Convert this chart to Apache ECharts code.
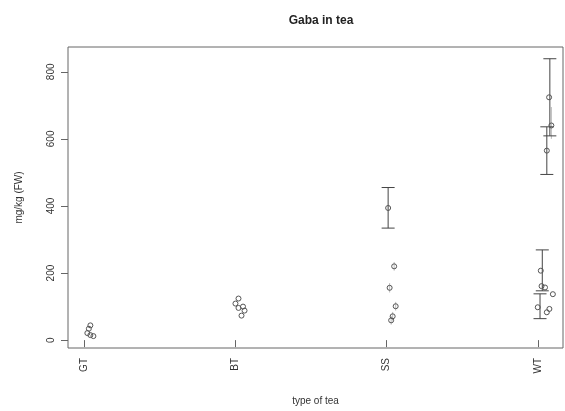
<!DOCTYPE html>
<html>
<head>
<meta charset="utf-8">
<script src="https://cdn.jsdelivr.net/npm/echarts@6/dist/echarts.min.js"></script>
<style>html,body{margin:0;padding:0;background:#fff}#c{width:565px;height:411px}</style>
</head>
<body>
<div id="c"></div>
<script>
// ---- data ----
const categories = ['GT', 'BT', 'SS', 'WT'];
const yTicks = [0, 200, 400, 600, 800];
const xTicks = [1, 2, 3, 4];

// jittered x positions and values (mg/kg FW)
const gtX = [1.04, 1.03, 1.02, 1.04, 1.06];
const gtY = [44, 34, 21, 15, 12];
const btX = [2.02, 2.00, 2.05, 2.02, 2.06, 2.04];
const btY = [124, 109, 100, 96, 88, 73];
const ssX = [3.01, 3.05, 3.02, 3.06, 3.04, 3.03];
const ssY = [394, 220, 156, 101, 71, 59];
const wtX = [4.075, 4.09, 4.06, 4.02, 4.025, 4.048, 4.10, 4.00, 4.06, 4.077];
const wtY = [724, 640, 565, 207, 161, 157, 137, 98, 83, 93];

// error bars with caps
const barX = [3.01, 4.08, 4.06, 4.03, 4.015];
const barLow = [334, 609, 494, 147, 64];
const barHigh = [455, 839, 636, 269, 138];

// faint bars without caps
const faintX = [3.05, 3.02, 3.06, 3.04, 3.03, 4.09];
const faintLow = [207, 142, 88, 58, 46, 600];
const faintHigh = [233, 170, 114, 84, 72, 695];

// ---- chart ----
const pts = [];
[[gtX, gtY], [btX, btY], [ssX, ssY], [wtX, wtY]].forEach(([xs, ys]) => {
  xs.forEach((x, i) => pts.push([x, ys[i]]));
});
const bars = barX.map((x, i) => [x, barLow[i], barHigh[i]]);
const faint = faintX.map((x, i) => [x, faintLow[i], faintHigh[i]]);

function errRender(color, cap) {
  return function (params, api) {
    const x = api.value(0), lo = api.value(1), hi = api.value(2);
    const p1 = api.coord([x, lo]);
    const p2 = api.coord([x, hi]);
    const children = [{
      type: 'line',
      shape: { x1: p1[0], y1: p1[1], x2: p2[0], y2: p2[1] },
      style: { stroke: color, lineWidth: 1 }
    }];
    if (cap) {
      const w = 6.5;
      children.push({ type: 'line', shape: { x1: p1[0] - w, y1: p1[1], x2: p1[0] + w, y2: p1[1] }, style: { stroke: color, lineWidth: 1 } });
      children.push({ type: 'line', shape: { x1: p2[0] - w, y1: p2[1], x2: p2[0] + w, y2: p2[1] }, style: { stroke: color, lineWidth: 1 } });
    }
    return { type: 'group', children: children };
  };
}

const FONT = 'Liberation Sans, Arial, sans-serif';
const chart = echarts.init(document.getElementById('c'), null, { renderer: 'canvas' });
chart.setOption({
  animation: false,
  backgroundColor: '#fff',
  title: {
    text: 'Gaba in tea',
    left: 316, top: 10,
    textAlign: 'center',
    textStyle: { fontFamily: FONT, fontSize: 12, fontWeight: 'bold', color: '#222' }
  },
  grid: {
    left: 68, right: 2, top: 47, bottom: 58,
    show: true, borderColor: '#666', borderWidth: 1, backgroundColor: 'transparent'
  },
  xAxis: {
    type: 'value',
    min: 0.892, max: 4.167,
    name: 'type of tea',
    nameLocation: 'middle',
    nameGap: 48,
    nameTextStyle: { fontFamily: FONT, fontSize: 10, color: '#333' },
    axisLine: { show: false },
    splitLine: { show: false },
    axisTick: { show: true, customValues: xTicks, length: 7, lineStyle: { color: '#666' } },
    axisLabel: {
      customValues: xTicks, rotate: 90, margin: 10,
      fontFamily: FONT, fontSize: 10, color: '#333',
      formatter: v => categories[Math.round(v) - 1]
    }
  },
  yAxis: {
    type: 'value',
    min: -23.5, max: 874,
    name: 'mg/kg (FW)',
    nameLocation: 'middle',
    nameGap: 44,
    nameTextStyle: { fontFamily: FONT, fontSize: 10, color: '#333' },
    axisLine: { show: false },
    splitLine: { show: false },
    axisTick: { show: true, customValues: yTicks, length: 7, lineStyle: { color: '#666' } },
    axisLabel: {
      customValues: yTicks, rotate: 90, margin: 12,
      fontFamily: FONT, fontSize: 10, color: '#333'
    }
  },
  series: [
    {
      type: 'custom',
      renderItem: errRender('#bbb', false),
      encode: { x: 0, y: [1, 2] },
      data: faint,
      z: 1
    },
    {
      type: 'custom',
      renderItem: errRender('#444', true),
      encode: { x: 0, y: [1, 2] },
      data: bars,
      z: 2
    },
    {
      type: 'scatter',
      symbol: 'circle',
      symbolSize: 5,
      itemStyle: { color: 'rgba(255,255,255,0)', borderColor: '#555', borderWidth: 1, opacity: 1 },
      data: pts,
      z: 3
    }
  ]
});
</script>
</body>
</html>
